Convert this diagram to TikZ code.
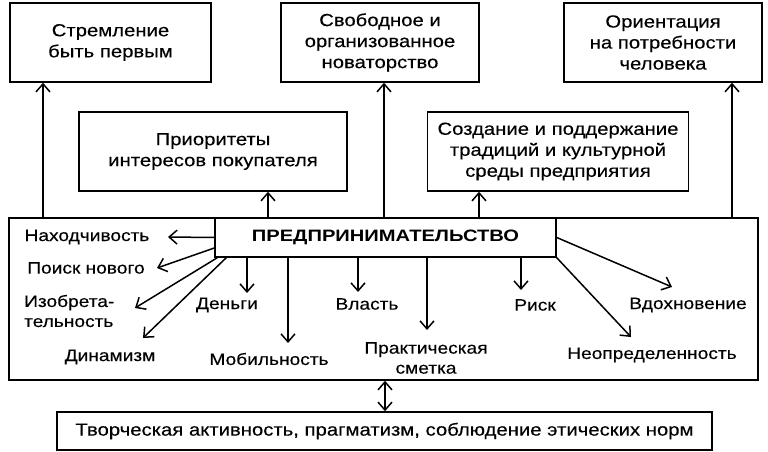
\documentclass[tikz,border=0pt]{standalone}
\usepackage{fontspec}
\setmainfont{Liberation Sans}[FakeStretch=1.16,FakeBold=0.3]
\newfontfamily\titlefont{Liberation Sans}[FakeStretch=1.22]
\usetikzlibrary{arrows.meta,calc}
\begin{document}
\begin{tikzpicture}[x=1pt,y=-1pt,
  box/.style={draw, line width=1.5pt, inner sep=0pt, align=center, font=\fontsize{17.5}{21}\selectfont},
  lbl/.style={inner sep=0pt, align=center, font=\fontsize{16.5}{20}\selectfont},
  arr/.style={line width=1.5pt, -{Straight Barb[length=8pt,width=14pt]}},
  darr/.style={line width=1.5pt, {Straight Barb[length=8pt,width=14pt]}-{Straight Barb[length=8pt,width=14pt]}},
]
\useasboundingbox (0,0) rectangle (768,452);
% top boxes
\node[box, minimum width=201pt, minimum height=79pt] (b1) at (110.5,42.5) {Стремление\\быть первым};
\node[box, minimum width=198pt, minimum height=79pt] (b2) at (380,42.5) {Свободное и\\организованное\\новаторство};
\node[box, minimum width=198pt, minimum height=79pt] (b3) at (663,42.5) {Ориентация\\на потребности\\человека};
\node[box, minimum width=268pt, minimum height=79pt] (b4) at (213,151.5) {Приоритеты\\интересов покупателя};
\node[box, minimum width=261pt, minimum height=79pt] (b5) at (558,151.5) {Создание и поддержание\\традиций и культурной\\среды предприятия};
% big frame and title
\node[draw, line width=1.5pt, inner sep=0pt, minimum width=749pt, minimum height=162pt] (big) at (383.5,299) {};
\node[draw, line width=1.5pt, fill=white, inner sep=0pt, minimum width=341pt, minimum height=39pt] (title) at (385.5,237.5) {\titlefont\fontsize{16.5}{20}\selectfont\bfseries ПРЕДПРИНИМАТЕЛЬСТВО};
% bottom box
\node[box, minimum width=655pt, minimum height=38pt] (bot) at (384.5,431) {Творческая активность, прагматизм, соблюдение этических норм};
% arrows to the upper boxes
\coordinate (x1) at (43,0);
\coordinate (x4) at (268,0);
\coordinate (x2) at (384,0);
\coordinate (x5) at (479,0);
\coordinate (x3) at (732,0);
\draw[arr] (big.north -| x1) -- (b1.south -| x1);
\draw[arr] (big.north -| x4) -- (b4.south -| x4);
\draw[arr] (big.north -| x2) -- (b2.south -| x2);
\draw[arr] (big.north -| x5) -- (b5.south -| x5);
\draw[arr] (big.north -| x3) -- (b3.south -| x3);
% labels
\node[lbl] (l1) at (87,237) {Находчивость};
\node[lbl] (l2) at (86,268) {Поиск нового};
\node[lbl, align=left, anchor=west] (l3) at (24,311) {Изобрета-\\тельность};
\node[lbl] (l4) at (110,357) {Динамизм};
\node[lbl] (l5) at (227,305) {Деньги};
\node[lbl] (l6) at (269,359) {Мобильность};
\node[lbl] (l7) at (367,304) {Власть};
\node[lbl] (l8) at (426,358) {Практическая\\сметка};
\node[lbl] (l9) at (535,305) {Риск};
\node[lbl] (l10) at (688,305) {Вдохновение};
\node[lbl] (l11) at (652,355) {Неопределенность};
% arrow tips
\coordinate (t1) at (168,237);
\coordinate (t2) at (157,268);
\coordinate (t3) at (135,308);
\coordinate (t4) at (143,338);
\coordinate (t5) at (247,293);
\coordinate (t6) at (288,343);
\coordinate (t7) at (358,292);
\coordinate (t8) at (427,330);
\coordinate (t9) at (521,290);
\coordinate (t10) at (672,287);
\coordinate (t11) at (631,337);
\draw[arr] (title.west) -- (t1);
\draw[arr] ([yshift=-10.5pt]title.west) -- (t2);
\draw[arr] ([xshift=3pt]title.south west) -- (t3);
\draw[arr] ([xshift=12pt]title.south west) -- (t4);
\draw[arr] (title.south -| t5) -- (t5);
\draw[arr] (title.south -| t6) -- (t6);
\draw[arr] (title.south -| t7) -- (t7);
\draw[arr] (title.south -| t8) -- (t8);
\draw[arr] (title.south -| t9) -- (t9);
\draw[arr] (title.east) -- (t10);
\draw[arr] (title.south east) -- (t11);
% bottom double arrow
\coordinate (xb) at (385,0);
\draw[darr] (big.south -| xb) -- (bot.north -| xb);
\end{tikzpicture}
\end{document}
